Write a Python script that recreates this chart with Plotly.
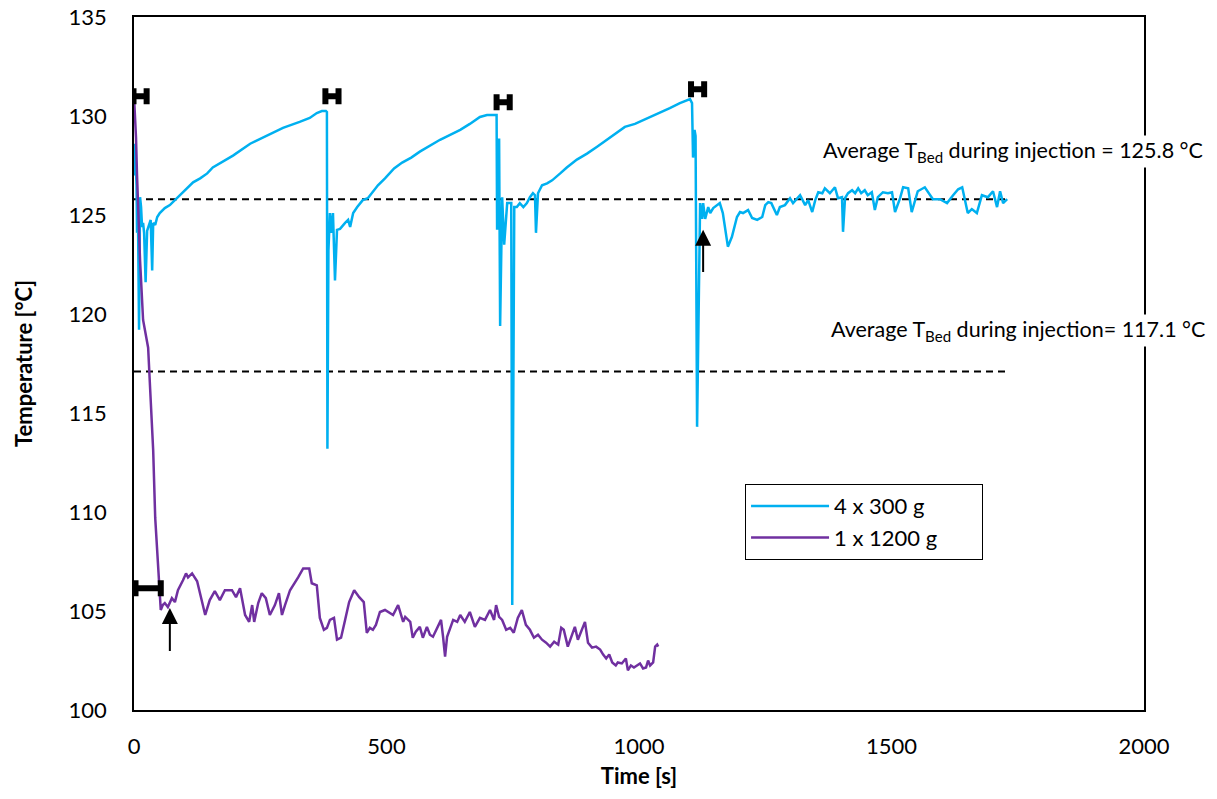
import plotly.graph_objects as go

# ---- data ----
blue_t = [0, 2, 5, 6, 8, 10, 12, 14, 16, 18, 20, 23, 26, 29, 33, 36, 38, 42, 46, 51, 61, 71, 81, 91, 105, 117, 131, 145, 156, 170, 196, 230, 262, 295, 328, 348, 362, 372, 380, 382,
          383, 385, 388, 391, 394, 398, 402, 408, 418, 424, 428, 434, 442, 453, 463, 473, 483, 497, 515, 531, 549, 566, 586, 606, 626, 646, 665, 685, 699, 718,
          719, 721, 723, 725, 729, 733, 739, 747, 749, 753, 758, 764, 771, 778, 784, 790, 794, 796, 800, 808, 818, 828, 844, 857, 877, 897, 917, 937, 956, 972, 992,
          1022, 1042, 1061, 1081, 1095, 1101, 1105, 1107, 1110, 1112, 1115, 1121, 1125, 1127, 1131, 1137, 1141, 1147, 1160, 1166, 1176, 1184, 1194, 1200, 1206,
          1216, 1224, 1234, 1244, 1250, 1256, 1262, 1273, 1279, 1289, 1299, 1305, 1319, 1329, 1335, 1343, 1349, 1355, 1363, 1368, 1378, 1388, 1394, 1402, 1404,
          1408, 1414, 1422, 1428, 1434, 1440, 1447, 1453, 1461, 1467, 1473, 1483, 1493, 1501, 1507, 1517, 1523, 1533, 1540, 1552, 1566, 1582, 1596, 1610, 1622,
          1632, 1640, 1645, 1651, 1659, 1669, 1679, 1691, 1701, 1709, 1715, 1721, 1729]
blue_T = [127.0, 128.6, 126.5, 124.1, 124.5, 119.2, 125.9, 125.4, 124.4, 124.6, 124.1, 121.6, 124.2, 124.4, 124.75, 122.2, 124.6, 124.5, 124.9, 125.1, 125.35, 125.5, 125.75, 126.0, 126.4, 126.65, 126.85, 127.1, 127.4, 127.6, 128.0, 128.6, 129.0, 129.4, 129.7, 129.9, 130.15, 130.25, 130.25, 130.2,
          113.2, 123.2, 125.1, 124.1, 125.1, 121.7, 124.25, 124.3, 124.6, 124.75, 124.4, 125.1, 125.4, 125.75, 125.85, 126.2, 126.5, 126.85, 127.35, 127.65, 127.9, 128.2, 128.5, 128.8, 129.05, 129.3, 129.6, 129.95, 130.05, 130.05,
          124.25, 128.8, 128.8, 119.4, 125.9, 123.5, 125.6, 125.6, 105.3, 125.4, 125.4, 125.6, 125.4, 125.6, 125.9, 126.1, 126.0, 124.1, 126.1, 126.5, 126.6, 126.75, 127.1, 127.4, 127.8, 128.1, 128.45, 128.8, 129.15, 129.45, 129.6,
          129.95, 130.15, 130.4, 130.65, 130.8, 130.85, 130.65, 127.9, 129.3, 129.0, 114.3, 125.6, 124.8, 125.6, 124.8, 125.4, 125.1, 125.35, 125.6, 125.1, 123.4, 123.9, 124.9, 125.15, 125.1,
          125.25, 124.85, 124.75, 124.9, 125.5, 125.65, 125.6, 125.0, 125.4, 125.5, 125.85, 125.6, 126.0, 125.5, 125.75, 125.15, 125.75, 126.15, 126.1, 126.35, 126.1, 126.4, 125.85, 125.9, 124.15,
          125.85, 126.1, 126.25, 126.1, 126.35, 126.1, 126.25, 126.0, 126.15, 125.25, 125.9, 126.15, 126.1, 126.15, 125.15, 125.85, 126.4, 126.35, 125.15, 126.2, 126.4, 125.8, 125.8, 125.6, 126.0,
          126.3, 126.4, 125.8, 125.1, 125.3, 125.1, 126.0, 125.9, 126.2, 125.4, 126.2, 125.6, 125.8]

purple_t = [0, 4, 6, 10, 12, 18, 28, 32, 36, 38, 42, 48, 51, 53, 57, 61, 67, 75, 81, 87, 97, 103, 107, 115, 125, 133, 141, 150, 160, 170, 180, 194, 202, 210, 220, 228, 234, 238, 246, 253,
            261, 269, 279, 287, 293, 299, 309, 325, 335, 347, 352, 362, 368, 376, 382, 388, 396, 402, 410, 418, 426, 436, 446, 455, 461, 467, 473, 479, 487, 497, 513, 523, 533, 537,
            547, 552, 558, 566, 572, 580, 586, 592, 600, 608, 612, 616, 620, 626, 632, 640, 646, 655, 665, 675, 685, 695, 705, 713, 717, 723, 729, 737, 745, 752, 760, 768, 776, 784,
            792, 800, 808, 816, 824, 832, 840, 846, 851, 859, 867, 873, 879, 887, 893, 899, 907, 915, 923, 929, 935, 941, 947, 954, 958, 966, 974, 978, 984, 990, 996, 1002, 1008,
            1014, 1018, 1022, 1028, 1032, 1036, 1038]
purple_T = [131.0, 128.9, 127.0, 124.0, 122.7, 119.7, 118.3, 116.2, 114.0, 113.1, 109.7, 107.2, 106.4, 105.05, 105.3, 105.4, 105.2, 105.65, 105.45, 106.05, 106.55, 106.9, 106.7, 106.9, 106.5, 105.7, 104.8, 105.55, 106.0, 105.55, 106.05, 106.05, 105.7, 106.15, 104.8, 104.45, 105.3, 104.45, 105.4, 105.9,
            105.65, 104.8, 105.3, 105.9, 104.8, 105.3, 106.05, 106.7, 107.15, 107.15, 106.4, 106.3, 104.65, 104.05, 104.15, 104.55, 104.65, 103.55, 103.65, 104.55, 105.45, 106.05, 105.7, 105.45, 103.9, 104.15, 104.05, 104.3, 104.95, 105.05, 104.8, 105.3, 104.45, 104.7,
            104.45, 103.65, 103.95, 104.2, 103.65, 104.2, 103.8, 103.7, 104.15, 104.55, 103.7, 102.7, 103.7, 104.15, 104.55, 104.45, 104.8, 104.45, 104.95, 104.2, 104.65, 104.55, 105.05, 104.55, 105.3, 104.7, 104.55, 104.05, 104.15, 103.9, 104.65, 105.05, 104.3, 104.05,
            103.65, 103.8, 103.55, 103.4, 103.2, 103.45, 103.3, 104.15, 104.05, 103.2, 103.8, 104.2, 103.55, 104.05, 104.45, 103.4, 103.15, 103.2, 103.05, 102.8, 102.6, 102.8, 102.4, 102.25, 102.4, 102.35, 102.6, 102.0, 102.25, 102.15, 102.25, 102.35, 102.1,
            102.15, 102.5, 102.25, 102.4, 103.2, 103.3, 103.2]

series_names = ["4 x 300 g", "1 x 1200 g"]

# injection periods (horizontal bars)
inj_blue_t = [12, 392, 731, 1116]
inj_blue_T = [131.0, 131.0, 130.7, 131.35]
inj_blue_half = [13, 13, 13, 13]
inj_purple_t = [28]
inj_purple_T = [106.15]
inj_purple_half = [25]

# average lines
avg_t = [0, 1730]
avg_blue = 125.8
avg_purple = 117.1

# arrows: (tip t, tip T, tail T)
arrow_t = [71, 1127]
arrow_tip_T = [105.15, 124.25]
arrow_tail_T = [102.9, 122.05]

x_ticks = [0, 500, 1000, 1500, 2000]
y_ticks = [100, 105, 110, 115, 120, 125, 130, 135]

BLUE = "#00B0F0"
PURPLE = "#7030A0"
FONT = "Lato"
PAD = "\u00a0" * 7

fig = go.Figure()

fig.add_trace(go.Scatter(x=avg_t, y=[avg_blue] * len(avg_t), mode="lines",
                         line=dict(color="black", width=2, dash="7px,5px"), showlegend=False, hoverinfo="skip"))
fig.add_trace(go.Scatter(x=avg_t, y=[avg_purple] * len(avg_t), mode="lines",
                         line=dict(color="black", width=2, dash="7px,5px"), showlegend=False, hoverinfo="skip"))

fig.add_trace(go.Scatter(x=blue_t, y=blue_T, mode="lines", name=series_names[0] + PAD,
                         line=dict(color=BLUE, width=2.5)))
fig.add_trace(go.Scatter(x=purple_t, y=purple_T, mode="lines", name=series_names[1] + PAD,
                         line=dict(color=PURPLE, width=2.5)))

fig.add_trace(go.Scatter(x=inj_blue_t, y=inj_blue_T, mode="markers", showlegend=False,
                         marker=dict(size=1, color="black", opacity=0),
                         error_x=dict(type="data", array=inj_blue_half, symmetric=True,
                                      color="black", thickness=6, width=8)))
fig.add_trace(go.Scatter(x=inj_purple_t, y=inj_purple_T, mode="markers", showlegend=False,
                         marker=dict(size=1, color="black", opacity=0),
                         error_x=dict(type="data", array=inj_purple_half, symmetric=True,
                                      color="black", thickness=6, width=8)))

annotations = []
for t, tip, tail in zip(arrow_t, arrow_tip_T, arrow_tail_T):
    annotations.append(dict(x=t, y=tip, ax=t, ay=tail, xref="x", yref="y", axref="x", ayref="y",
                            showarrow=True, arrowhead=2, arrowsize=1.6, arrowwidth=2,
                            arrowcolor="black", text=""))

annotations.append(dict(x=1.0604, y=0.8066, xref="paper", yref="paper", xanchor="right", yanchor="middle",
                        text="Average T<sub>Bed</sub> during injection = 125.8 °C", showarrow=False,
                        bgcolor="white", font=dict(family=FONT, size=21.5, color="black")))
annotations.append(dict(x=1.0624, y=0.547, xref="paper", yref="paper", xanchor="right", yanchor="middle",
                        text="Average T<sub>Bed</sub> during injection= 117.1 °C", showarrow=False,
                        bgcolor="white", font=dict(family=FONT, size=21.5, color="black")))

fig.update_layout(
    width=1217, height=799,
    margin=dict(l=134, r=73, t=17, b=89, autoexpand=False),
    paper_bgcolor="white", plot_bgcolor="white",
    font=dict(family=FONT, size=22, color="black"),
    annotations=annotations,
    legend=dict(x=0.605, y=0.326, xanchor="left", yanchor="top",
                bordercolor="black", borderwidth=1, bgcolor="white",
                font=dict(family=FONT, size=22, color="black"),
                itemwidth=78, tracegroupgap=0),
    xaxis=dict(range=[0, 2000], tickvals=x_ticks, showgrid=False, zeroline=False,
               showline=True, linecolor="black", linewidth=1.5, mirror=True, ticks="",
               ticklabelstandoff=16, automargin=False, ticklabeloverflow="allow",
               title=dict(text="<b>Time [s]</b>", font=dict(family=FONT, size=22), standoff=10)),
    yaxis=dict(range=[100, 135], tickvals=y_ticks, showgrid=False, zeroline=False,
               showline=True, linecolor="black", linewidth=1.5, mirror=True, ticks="",
               ticklabelstandoff=21, automargin=False, ticklabeloverflow="allow",
               title=dict(text="<b>Temperature [°C]</b>", font=dict(family=FONT, size=22), standoff=30)),
)

# remove the browser's default 8px page margin so the figure fills the window exactly
fig.write_html("out.html", config={"displayModeBar": False},
               post_script="document.body.style.margin='0px';document.body.style.overflow='hidden';")
